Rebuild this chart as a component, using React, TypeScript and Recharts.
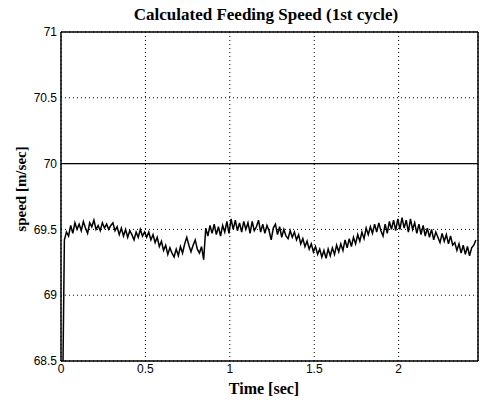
import { CartesianGrid, Line, LineChart, ReferenceLine, XAxis, YAxis } from "recharts"

const title = "Calculated Feeding Speed (1st cycle)"
const xLabel = "Time [sec]"
const yLabel = "speed [m/sec]"

const timeTicks = [0, 0.5, 1, 1.5, 2]
const speedTicks = [68.5, 69, 69.5, 70, 70.5, 71]
const timeDomain = [0, 2.47]
const speedDomain = [68.5, 71]
const nominalSpeed = 70

// the trace starts from the bottom of the axis, then the sampled values follow
const startTime = 0.012
const startSpeed = 68.5
const sampleStart = 0.02
const sampleStep = 0.0125

const speed = [
    69.42, 69.48, 69.45, 69.53, 69.47, 69.55, 69.50,
    69.54, 69.49, 69.56, 69.51, 69.47, 69.55, 69.52, 69.57, 69.50, 69.53, 69.49, 69.55, 69.51, 69.54, 69.50, 69.53,
    69.55, 69.49, 69.52, 69.46, 69.51, 69.45, 69.50, 69.44, 69.49, 69.46, 69.42, 69.48, 69.44, 69.50, 69.45, 69.48,
    69.44, 69.48, 69.42, 69.46, 69.40, 69.44, 69.37, 69.41,
    69.34, 69.38, 69.31, 69.36, 69.32, 69.29, 69.35, 69.30, 69.37, 69.32,
    69.39, 69.44, 69.38, 69.33, 69.38, 69.42, 69.35, 69.32, 69.37, 69.27,
    69.51, 69.45, 69.53,
    69.47, 69.54, 69.46, 69.52, 69.45, 69.53, 69.48, 69.56, 69.47,
    69.58, 69.50, 69.57, 69.49, 69.55, 69.48, 69.56, 69.50,
    69.55, 69.47, 69.56, 69.49, 69.52, 69.57, 69.48, 69.54, 69.47, 69.53, 69.49,
    69.42, 69.51, 69.54, 69.46, 69.52, 69.44, 69.50, 69.45, 69.43, 69.49, 69.44, 69.48, 69.42, 69.46,
    69.39, 69.43, 69.37, 69.41, 69.35, 69.39, 69.33, 69.37, 69.31,
    69.35, 69.29, 69.34, 69.28, 69.35, 69.30, 69.36,
    69.31, 69.38, 69.33, 69.39, 69.34, 69.42, 69.36, 69.43, 69.37, 69.44, 69.39,
    69.46, 69.41, 69.48, 69.43, 69.51, 69.46, 69.52, 69.47,
    69.54, 69.48, 69.55, 69.49, 69.45, 69.54, 69.47, 69.56, 69.50, 69.57, 69.49,
    69.58, 69.50, 69.59, 69.51, 69.57, 69.48, 69.58, 69.50,
    69.55, 69.47, 69.54, 69.46, 69.53, 69.45,
    69.51, 69.44, 69.50, 69.42, 69.48, 69.44, 69.40, 69.47, 69.41, 69.46, 69.39, 69.45, 69.38,
    69.40, 69.34, 69.39, 69.32, 69.38, 69.31, 69.37, 69.30, 69.36, 69.38, 69.42,
]

const data = [
    { t: startTime, v: startSpeed },
    ...speed.map((v, i) => ({ t: sampleStart + i * sampleStep, v })),
]

const serif = "'Liberation Serif', 'DejaVu Serif', serif"
const sans = "'Liberation Sans', Arial, sans-serif"
const tickStyle = { fontFamily: sans, fontSize: 12, fill: "#000" }

const labelBase = {
    position: "absolute" as const,
    whiteSpace: "nowrap" as const,
    fontFamily: serif,
    fontWeight: "bold",
}

export default function App() {
    return (
        <div style={{ position: "absolute", left: 0, top: 0, width: 480, height: 405, background: "#fff" }}>
            <LineChart
                width={480}
                height={405}
                data={data}
                margin={{ top: 32, right: 2, bottom: 24, left: 0 }}
            >
                <CartesianGrid stroke="#000" strokeDasharray="1 3" />
                <XAxis
                    type="number"
                    dataKey="t"
                    domain={timeDomain}
                    ticks={timeTicks}
                    allowDataOverflow
                    height={20}
                    tickSize={0}
                    tickMargin={3}
                    tick={tickStyle}
                    axisLine={{ stroke: "#000", strokeWidth: 1.5 }}
                />
                <YAxis
                    type="number"
                    domain={speedDomain}
                    ticks={speedTicks}
                    allowDataOverflow
                    width={61}
                    tickSize={0}
                    tickMargin={4}
                    tick={tickStyle}
                    axisLine={{ stroke: "#000", strokeWidth: 1.5 }}
                />
                <ReferenceLine y={speedDomain[1]} stroke="#000" strokeWidth={1.5} />
                <ReferenceLine x={timeDomain[1]} stroke="#000" strokeWidth={1.5} />
                <ReferenceLine y={nominalSpeed} stroke="#000" strokeWidth={1.2} />
                <Line
                    type="linear"
                    dataKey="v"
                    stroke="#000"
                    strokeWidth={1.5}
                    dot={false}
                    isAnimationActive={false}
                />
            </LineChart>
            <div style={{ ...labelBase, left: 266, top: 15, fontSize: 17, transform: "translate(-50%, -50%)" }}>
                {title}
            </div>
            <div style={{ ...labelBase, left: 264, top: 389, fontSize: 16, transform: "translate(-50%, -50%)" }}>
                {xLabel}
            </div>
            <div
                style={{
                    ...labelBase,
                    left: 21,
                    top: 189,
                    fontSize: 15,
                    transform: "translate(-50%, -50%) rotate(-90deg)",
                }}
            >
                {yLabel}
            </div>
        </div>
    )
}
